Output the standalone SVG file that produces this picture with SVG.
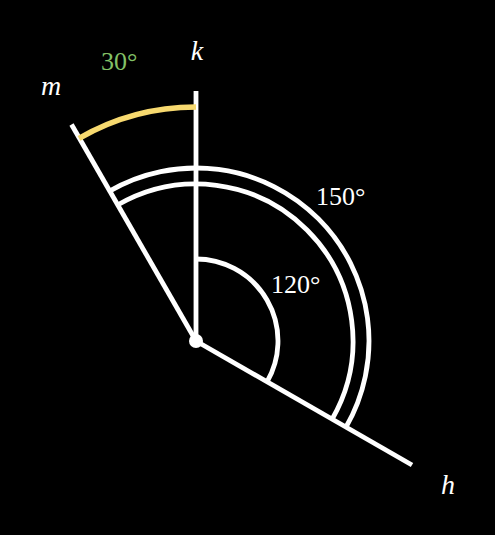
<svg xmlns="http://www.w3.org/2000/svg" width="495" height="535" viewBox="0 0 495 535">
<style>
.ln{stroke:#ffffff;stroke-width:4.8;fill:none;stroke-linecap:butt}
.lbl{font-family:"Liberation Serif","DejaVu Serif",serif;font-size:26px;fill:#ffffff}
.var{font-style:italic;font-size:28px}
</style>
<rect width="495" height="535" fill="#000000"/>
<g id="connectors">
<line class="ln" x1="196" y1="341" x2="412" y2="465"/>
<line class="ln" x1="196" y1="341" x2="196" y2="91"/>
<line class="ln" x1="196" y1="341" x2="71.5" y2="124.5"/>
</g>
<g id="angle120">
<path class="ln" d="M267 382 A82 82 0 0 0 196 259"/>
<text class="lbl" x="271" y="293">120°</text>
</g>
<g id="angle150">
<path class="ln" d="M331.97 419.5 A157 157 0 0 0 117.5 205.03"/>
<path class="ln" d="M345.82 427.5 A173 173 0 0 0 109.5 191.18"/>
<text class="lbl" x="316" y="205">150°</text>
</g>
<g id="angle30">
<path d="M196 107 A234 234 0 0 0 79 138.35" stroke="#F7D96F" stroke-width="5.5" fill="none"/>
<text class="lbl" x="101" y="70" style="fill:#83C167">30°</text>
</g>
<g id="center"><circle cx="196" cy="341" r="7" fill="#ffffff"/></g>
<g id="label-k"><text class="lbl var" x="197" y="60" text-anchor="middle">k</text></g>
<g id="label-m"><text class="lbl var" x="51" y="95" text-anchor="middle">m</text></g>
<g id="label-h"><text class="lbl var" x="448" y="494" text-anchor="middle">h</text></g>
</svg>
